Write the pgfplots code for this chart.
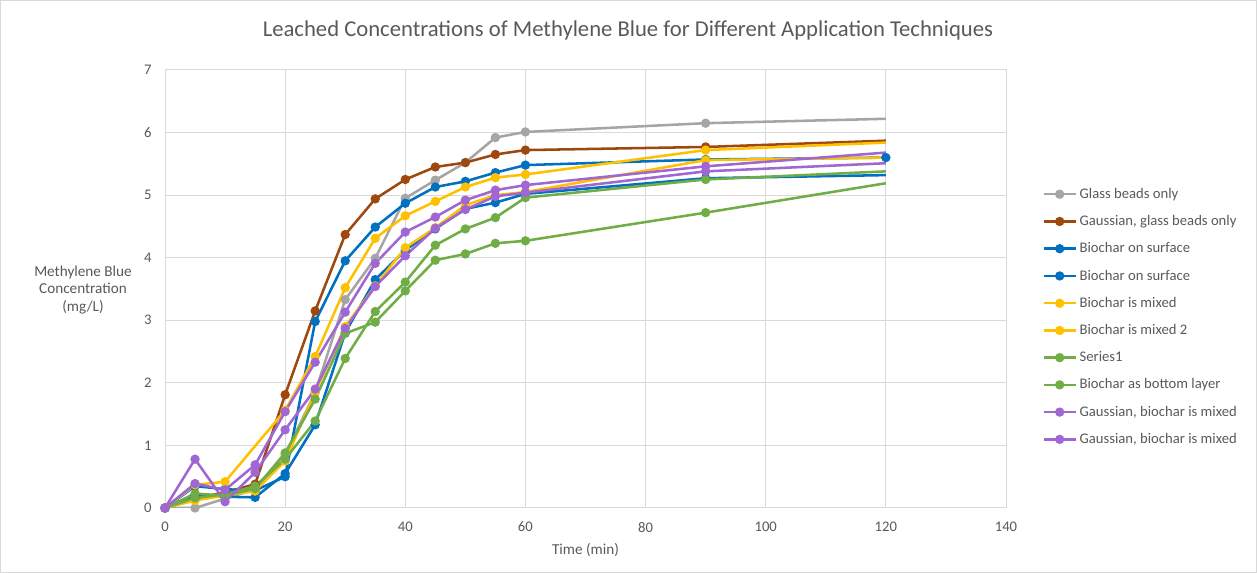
\documentclass[border=0pt]{standalone}
\usepackage{pgfplots}
\pgfplotsset{compat=1.18}
\usepackage{fontspec}
\setmainfont{Carlito}
\definecolor{cgray}{HTML}{A5A5A5}
\definecolor{cbrown}{HTML}{9E480E}
\definecolor{cblue}{HTML}{0070C0}
\definecolor{cyellow}{HTML}{FFC000}
\definecolor{cgreen}{HTML}{70AD47}
\definecolor{cpurple}{HTML}{A066D3}
\definecolor{ctext}{HTML}{595959}
\definecolor{cgrid}{HTML}{D9D9D9}
\begin{document}
\begin{tikzpicture}
\useasboundingbox (0,0) rectangle (942.75pt,429.75pt);
\draw[cgrid, line width=0.75pt] (0.375pt,0.375pt) rectangle (942.375pt,429.375pt);
\begin{axis}[
  at={(123.75pt,48.75pt)}, anchor=south west,
  scale only axis, width=630.75pt, height=328.5pt,
  xmin=0, xmax=140, ymin=0, ymax=7,
  xtick={0,20,...,140}, ytick={0,1,...,7},
  grid=major, major grid style={cgrid, line width=0.75pt},
  axis line style={cgrid, line width=0.75pt},
  tick style={draw=none},
  /pgf/number format/assume math mode=true,
  ticklabel style={font=\fontsize{11}{12}\selectfont, text=ctext},
  xticklabel style={yshift=-7pt},
  yticklabel style={xshift=-6.5pt},
  title={Leached Concentrations of Methylene Blue for Different Application Techniques},
  title style={at={(0.5505,1.073)}, anchor=center, font=\fontsize{17}{20}\selectfont, text=ctext},
  xlabel={Time (min)},
  xlabel style={at={(0.5,-0.096)}, anchor=center, font=\fontsize{11.4}{13}\selectfont, text=ctext},
  ylabel={Methylene Blue\\Concentration\\(mg/L)},
  ylabel style={rotate=-90, at={(-0.0975,0.498)}, anchor=center, align=center, font=\fontsize{11.4}{13.2}\selectfont, text=ctext},
  legend style={draw=none, fill=none, at={(1.043,0.737)}, anchor=north west,
    font=\fontsize{11}{12}\selectfont, text=ctext, row sep=7.3pt, inner sep=0pt},
  legend cell align=left,
  legend image code/.code={\draw[#1, mark indices={2}] plot coordinates {(0pt,0pt) (12pt,0pt) (24pt,0pt)};},
  every axis plot/.append style={line width=1.9pt, mark=*, mark size=2.5pt, mark options={solid}},
]
\addplot[cgray, mark indices={1,...,14}] coordinates {(0,0) (5,0) (10,0.15) (15,0.3) (20,0.85) (25,1.85) (30,3.33) (35,3.99) (40,4.95) (45,5.24) (50,5.52) (55,5.92) (60,6.01) (90,6.15) (120,6.22)};
\addlegendentry{Glass beads only}
\addplot[cbrown, mark indices={1,...,14}] coordinates {(0,0) (5,0.15) (10,0.25) (15,0.38) (20,1.81) (25,3.15) (30,4.37) (35,4.94) (40,5.25) (45,5.45) (50,5.52) (55,5.65) (60,5.72) (90,5.77) (120,5.87)};
\addlegendentry{Gaussian, glass beads only}
\addplot[cblue] coordinates {(0,0) (5,0.35) (10,0.3) (15,0.28) (20,0.5) (25,2.98) (30,3.95) (35,4.49) (40,4.87) (45,5.13) (50,5.22) (55,5.36) (60,5.48) (90,5.57) (120,5.6)};
\addlegendentry{Biochar on surface}
\addplot[cblue, mark indices={1,...,14}] coordinates {(0,0) (5,0.2) (10,0.18) (15,0.17) (20,0.55) (25,1.33) (30,2.8) (35,3.65) (40,4.12) (45,4.46) (50,4.78) (55,4.88) (60,5.02) (90,5.27) (120,5.32)};
\addlegendentry{Biochar on surface}
\addplot[cyellow, mark indices={1,...,13}] coordinates {(0,0) (5,0.37) (10,0.42) (20,1.56) (25,2.42) (30,3.52) (35,4.31) (40,4.67) (45,4.90) (50,5.13) (55,5.28) (60,5.33) (90,5.72) (120,5.84)};
\addlegendentry{Biochar is mixed}
\addplot[cyellow, mark indices={1,...,14}] coordinates {(0,0) (5,0.12) (10,0.2) (15,0.27) (20,0.75) (25,1.85) (30,2.9) (35,3.55) (40,4.16) (45,4.48) (50,4.84) (55,5.0) (60,5.05) (90,5.56) (120,5.6)};
\addlegendentry{Biochar is mixed 2}
\addplot[cgreen, mark indices={1,...,14}] coordinates {(0,0) (5,0.23) (10,0.2) (15,0.31) (20,0.88) (25,1.74) (30,2.79) (35,2.97) (40,3.47) (45,3.96) (50,4.06) (55,4.23) (60,4.27) (90,4.72) (120,5.19)};
\addlegendentry{Series1}
\addplot[cgreen, mark indices={1,...,14}] coordinates {(0,0) (5,0.16) (10,0.22) (15,0.35) (20,0.78) (25,1.39) (30,2.39) (35,3.14) (40,3.61) (45,4.20) (50,4.46) (55,4.64) (60,4.96) (90,5.25) (120,5.38)};
\addlegendentry{Biochar as bottom layer}
\addplot[cpurple, mark indices={1,...,14}] coordinates {(0,0) (5,0.39) (10,0.29) (15,0.69) (20,1.54) (25,2.33) (30,3.13) (35,3.91) (40,4.41) (45,4.65) (50,4.92) (55,5.08) (60,5.16) (90,5.46) (120,5.68)};
\addlegendentry{Gaussian, biochar is mixed}
\addplot[cpurple, mark indices={1,...,14}] coordinates {(0,0) (5,0.78) (10,0.1) (15,0.57) (20,1.25) (25,1.9) (30,2.87) (35,3.54) (40,4.03) (45,4.47) (50,4.77) (55,4.98) (60,5.04) (90,5.38) (120,5.51)};
\addlegendentry{Gaussian, biochar is mixed}
\end{axis}
\end{tikzpicture}
\end{document}
